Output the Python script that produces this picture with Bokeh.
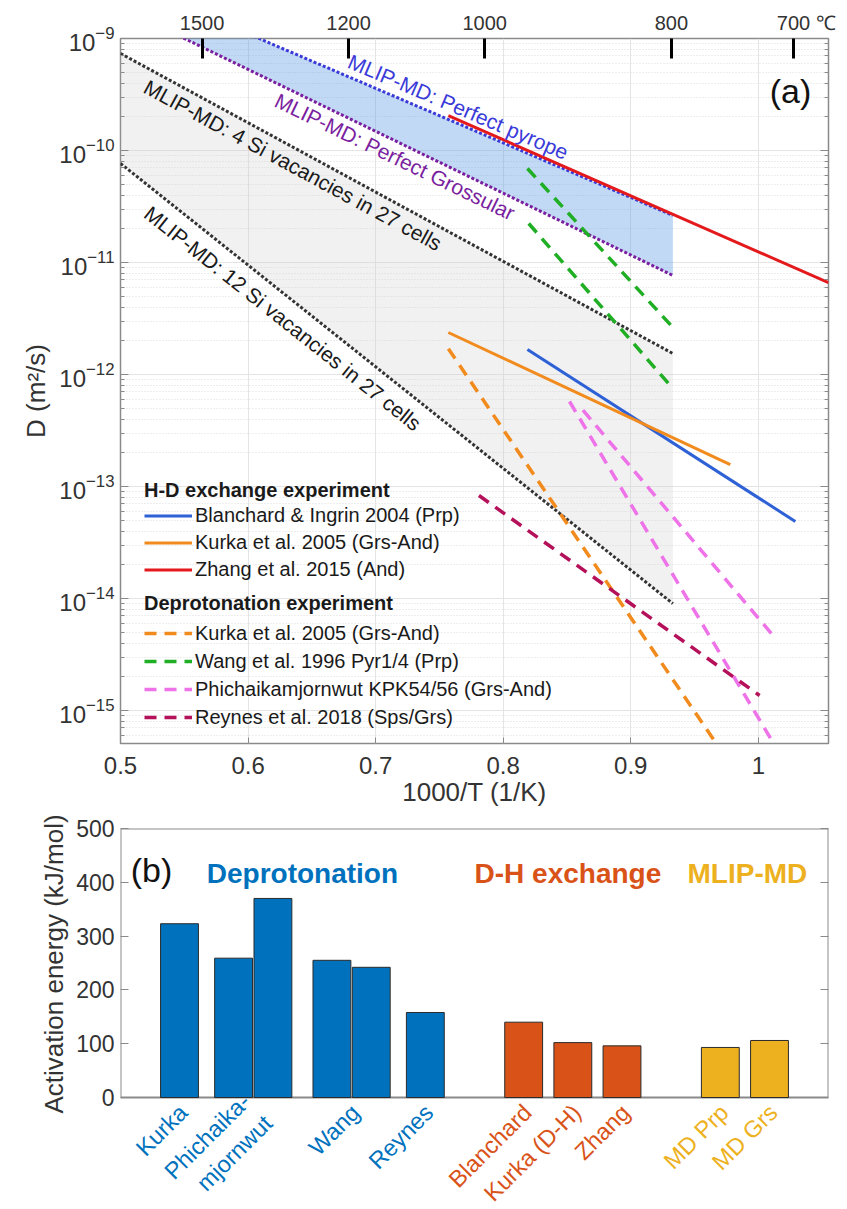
import math
from bokeh.plotting import figure
from bokeh.layouts import column
from bokeh.models import (Range1d, LogAxis, LinearAxis, FixedTicker, LogTicker,
                          CustomJSTickFormatter, Legend, LegendItem, Label, Title,
                          ColumnDataSource)
from bokeh.embed import file_html
from bokeh.resources import INLINE
from bokeh.core.properties import value

# ---------------- data: panel (a)  (x = 1000/T in 1/K, D in m^2/s) ----------------
x_ticks = [0.5, 0.6, 0.7, 0.8, 0.9, 1.0]
celsius_ticks = [1500, 1200, 1000, 800, 700]

md_x = [0.5, 0.933]
md_pyrope_D = [3.38e-9, 2.63e-11]
md_grossular_D = [1.89e-9, 7.66e-12]
md_4si_D = [7.35e-10, 1.54e-12]
md_12si_D = [7.66e-11, 9.0e-15]

blanchard_x = [0.819, 1.029]
blanchard_D = [1.67e-12, 4.87e-14]
kurka_hd_x = [0.757, 0.978]
kurka_hd_D = [2.37e-12, 1.57e-13]
zhang_x = [0.757, 1.055]
zhang_D = [2.05e-10, 6.6e-12]

kurka_dp_x = [0.757, 0.967]
kurka_dp_D = [1.70e-12, 5.07e-16]
wang1_x = [0.819, 0.933]
wang1_D = [6.9e-11, 2.63e-12]
wang4_x = [0.820, 0.933]
wang4_D = [2.23e-11, 7.5e-13]
phi54_x = [0.852, 1.012]
phi54_D = [5.74e-13, 5.07e-16]
phi56_x = [0.8625, 1.012]
phi56_D = [4.8e-13, 4.6e-15]
reynes_x = [0.781, 1.001]
reynes_D = [8.3e-14, 1.36e-15]

# ---------------- data: panel (b)  (activation energy, kJ/mol) ----------------
bar_names = ["Kurka", "Phichaikamjornwut KPK54", "Phichaikamjornwut KPK56",
             "Wang Pyr1", "Wang Pyr4", "Reynes", "Blanchard", "Kurka (D-H)",
             "Zhang", "MD Prp", "MD Grs"]
bar_values = [323, 259, 370, 255, 242, 158, 140, 102, 96, 93, 106]
bar_groups = ["Deprotonation"] * 6 + ["D-H exchange"] * 3 + ["MLIP-MD"] * 2
tick_labels = ["Kurka", "Phichaika-\nmjornwut", "Wang", "Reynes", "Blanchard",
               "Kurka (D-H)", "Zhang", "MD Prp", "MD Grs"]
tick_groups = ["Deprotonation"] * 4 + ["D-H exchange"] * 3 + ["MLIP-MD"] * 2
group_names = ["Deprotonation", "D-H exchange", "MLIP-MD"]
b_y_ticks = [0, 100, 200, 300, 400, 500]

# ---------------- layout / style ----------------
bar_pos = [1, 2.1, 2.9, 4.1, 4.9, 6, 8, 9, 10, 12, 13]
tick_pos = [1, 2.5, 4.5, 6, 8, 9, 10, 12, 13]
group_title_pos = [3.5, 8.9, 12.55]
group_colors = {"Deprotonation": "#0072BD", "D-H exchange": "#D95319", "MLIP-MD": "#EDB120"}

FONT = "Liberation Sans"
TXT = "#333333"
AX = "#8a8a8a"
W = 847

A_H, A_L, A_R, A_T, A_B = 814, 118, 19, 38, 71
XA = (0.5, 1.055)
YA = (5.07e-16, 1e-9)
B_H, B_L, B_R, B_T = 1209 - A_H, 120, 16, 14
B_FRAME_H = B_H - B_T
B_AXIS_PX = 269                       # pixel height of the 0..500 part of panel (b)
XB = (-0.2, 14.2)
YB = (-500.0 * (B_FRAME_H - B_AXIS_PX) / B_AXIS_PX, 500)


def style_axis(ax, tick_in=8, minor_in=4, size="24px"):
    ax.axis_line_color = None
    ax.major_tick_in = tick_in
    ax.major_tick_out = 0
    ax.minor_tick_in = minor_in
    ax.minor_tick_out = 0
    ax.major_tick_line_color = AX
    ax.minor_tick_line_color = AX if minor_in else None
    ax.major_label_text_font = FONT
    ax.major_label_text_font_size = size
    ax.major_label_text_color = TXT
    ax.axis_label_text_font = FONT
    ax.axis_label_text_font_size = "26px"
    ax.axis_label_text_font_style = "normal"
    ax.axis_label_text_color = TXT


kx = (W - A_L - A_R) / (XA[1] - XA[0])
ky = (A_H - A_T - A_B) / (math.log10(YA[1]) - math.log10(YA[0]))

# ---------------- panel (a) ----------------
pa = figure(width=W, height=A_H, x_range=Range1d(*XA), y_range=Range1d(*YA),
            y_axis_type="log", output_backend="svg", toolbar_location=None,
            min_border_left=A_L, min_border_right=A_R, min_border_top=A_T,
            min_border_bottom=A_B, outline_line_color=AX, outline_line_width=1.5)

xax = pa.below[0]
xax.ticker = FixedTicker(ticks=x_ticks, minor_ticks=[])
xax.formatter = CustomJSTickFormatter(code=r"return tick.toFixed(1).replace(/\.0$/, '');")
style_axis(xax, 6, 0)
xax.axis_label = "1000/T (1/K)"
xax.major_label_standoff = 13
xax.axis_label_standoff = 0
pa.xgrid[0].ticker = xax.ticker

yax = pa.left[0]
yax.ticker.num_minor_ticks = 10
style_axis(yax, 8, 4)
yax.axis_label = "D (m\u00b2/s)"
yax.major_label_standoff = 6

rax = LogAxis(ticker=LogTicker(num_minor_ticks=10), formatter=CustomJSTickFormatter(code="return '';"))
style_axis(rax, 8, 4, "0px")
rax.major_label_standoff = 0
pa.add_layout(rax, "right")

# top axis: thick Celsius tick marks (no labels) ...
top_pos = [1000.0 / (c + 273.15) for c in celsius_ticks]
tax = LinearAxis(ticker=FixedTicker(ticks=top_pos, minor_ticks=[]),
                 formatter=CustomJSTickFormatter(code="return '';"))
style_axis(tax, 20, 0, "0px")
tax.major_tick_line_color = "black"
tax.major_tick_line_width = 3
tax.major_label_standoff = 0
pa.add_layout(tax, "above")
# ... and the Celsius labels with the unit at the right end
tlab = LinearAxis(ticker=FixedTicker(ticks=top_pos + [XA[1]], minor_ticks=[]),
                  formatter=CustomJSTickFormatter(
                      args=dict(xend=XA[1]),
                      code="return Math.abs(tick - xend) < 1e-9 ? ' \u2103' : "
                           "String(Math.round(1000/tick - 273.15));"))
style_axis(tlab, 0, 0, "20px")
tlab.major_tick_line_color = None
tlab.major_label_standoff = 5
pa.add_layout(tlab, "above")

pa.xgrid.grid_line_color = "#e4e4e4"
pa.ygrid.grid_line_color = "#e4e4e4"
pa.ygrid.minor_grid_line_color = "#dcdcdc"
pa.ygrid.minor_grid_line_dash = "1 2"

pa.varea(x=md_x, y1=md_pyrope_D, y2=md_grossular_D, fill_color="#5b9be6", fill_alpha=0.38)
pa.varea(x=md_x, y1=md_4si_D, y2=md_12si_D, fill_color="#d0d0d0", fill_alpha=0.3)

DOT = "3 2"
pa.line(md_x, md_pyrope_D, line_color="#3a3ad8", line_width=3, line_dash=DOT)
pa.line(md_x, md_grossular_D, line_color="#7a1fa0", line_width=3, line_dash=DOT)
pa.line(md_x, md_4si_D, line_color="#333333", line_width=3, line_dash=DOT)
pa.line(md_x, md_12si_D, line_color="#333333", line_width=3, line_dash=DOT)

DASH = "12 8"
r_bl = pa.line(blanchard_x, blanchard_D, line_color="#2e60d6", line_width=3)
r_khd = pa.line(kurka_hd_x, kurka_hd_D, line_color="#f28b1e", line_width=3)
r_zh = pa.line(zhang_x, zhang_D, line_color="#e3191c", line_width=3)
r_kdp = pa.line(kurka_dp_x, kurka_dp_D, line_color="#f28b1e", line_width=3.5, line_dash=DASH)
r_w1 = pa.line(wang1_x, wang1_D, line_color="#1fae24", line_width=3.5, line_dash=DASH)
pa.line(wang4_x, wang4_D, line_color="#1fae24", line_width=3.5, line_dash=DASH)
r_p54 = pa.line(phi54_x, phi54_D, line_color="#ee72e8", line_width=3.5, line_dash=DASH)
pa.line(phi56_x, phi56_D, line_color="#ee72e8", line_width=3.5, line_dash=DASH)
r_rey = pa.line(reynes_x, reynes_D, line_color="#b5105a", line_width=3.5, line_dash=DASH)


def along(xs, Ds, xf, d):
    s = (math.log10(Ds[1]) - math.log10(Ds[0])) / (xs[1] - xs[0])
    m = -s * ky / kx
    n = math.sqrt(1 + m * m)
    logf = math.log10(Ds[0]) + s * (xf - xs[0])
    xc = xf + (-m * d / n) / kx
    logc = logf - (d / n) / ky
    return xc, 10 ** logc, -math.atan(m)


for txt, xs, Ds, xf, d, col in [
        ("MLIP-MD: Perfect pyrope", md_x, md_pyrope_D, 0.760, -15.6, "#3a3ad8"),
        ("MLIP-MD: Perfect Grossular", md_x, md_grossular_D, 0.720, 14.4, "#7a1fa0"),
        ("MLIP-MD: 4 Si vacancies in 27 cells", md_x, md_4si_D, 0.641, 15.8, "#1a1a1a"),
        ("MLIP-MD: 12 Si vacancies in 27 cells", md_x, md_12si_D, 0.637, 20.0, "#1a1a1a")]:
    xc, yc, ang = along(xs, Ds, xf, d)
    pa.text(x=[xc], y=[yc], text=[txt], angle=ang, text_align="center", text_baseline="middle",
            text_font=value(FONT), text_font_size="21px", text_color=col)

leg_common = dict(padding=0, margin=0, spacing=0, glyph_width=48, label_standoff=3,
                  background_fill_alpha=0, border_line_alpha=0,
                  label_text_font=FONT, label_text_font_size="20px", label_text_color="#1a1a1a",
                  title_text_font=FONT, title_text_font_size="20px", title_text_font_style="bold",
                  title_text_color="#1a1a1a")
leg1 = Legend(items=[LegendItem(label="Blanchard & Ingrin 2004 (Prp)", renderers=[r_bl]),
                     LegendItem(label="Kurka et al. 2005 (Grs-And)", renderers=[r_khd]),
                     LegendItem(label="Zhang et al. 2015 (And)", renderers=[r_zh])],
              title="H-D exchange experiment", location=(24, 160), glyph_height=27,
              label_height=27, title_standoff=0, **leg_common)
leg2 = Legend(items=[LegendItem(label="Kurka et al. 2005 (Grs-And)", renderers=[r_kdp]),
                     LegendItem(label="Wang et al. 1996 Pyr1/4 (Prp)", renderers=[r_w1]),
                     LegendItem(label="Phichaikamjornwut KPK54/56 (Grs-And)", renderers=[r_p54]),
                     LegendItem(label="Reynes et al. 2018 (Sps/Grs)", renderers=[r_rey])],
              title="Deprotonation experiment", location=(24, 12), glyph_height=28,
              label_height=28, title_standoff=4, **leg_common)
pa.add_layout(leg1)
pa.add_layout(leg2)

pa.add_layout(Label(x=670, y=653, x_units="screen", y_units="screen", text="(a)",
                    text_font=FONT, text_font_size="34px", text_color="#111111",
                    text_align="center", text_baseline="middle"))

# ---------------- panel (b): frame extends below 0 to hold the rotated labels ----------------
pb = figure(width=W, height=B_H, x_range=Range1d(*XB), y_range=Range1d(*YB),
            output_backend="svg", toolbar_location=None,
            min_border_left=B_L, min_border_right=B_R, min_border_top=B_T,
            min_border_bottom=0, outline_line_color=None)
pb.xaxis.visible = False
pb.xgrid.visible = False
pb.ygrid.visible = False
byax = pb.left[0]
byax.ticker = FixedTicker(ticks=b_y_ticks, minor_ticks=[])
style_axis(byax, 8, 0, "23px")
byax.major_label_standoff = 6
brax = LinearAxis(ticker=FixedTicker(ticks=b_y_ticks, minor_ticks=[]),
                  formatter=CustomJSTickFormatter(code="return '';"))
style_axis(brax, 8, 0, "0px")
brax.major_label_standoff = 0
pb.add_layout(brax, "right")
# y-axis title: starts 16 px below the 0 line
pb.add_layout(Title(text="Activation energy (kJ/mol)", align="left",
                    offset=(B_FRAME_H - B_AXIS_PX) - 16, text_font=FONT,
                    text_font_size="26px", text_font_style="normal", text_color=TXT,
                    standoff=10), "left")

# axes box around the 0..500 region
pb.quad(left=[XB[0]], right=[XB[1]], bottom=[0], top=[YB[1]], fill_color=None,
        line_color=AX, line_width=2)

bsrc = ColumnDataSource(dict(x=bar_pos, top=bar_values, name=bar_names,
                             color=[group_colors[g] for g in bar_groups]))
pb.vbar(x="x", top="top", bottom=0, width=0.77, fill_color="color", line_color="#2b2b2b",
        line_width=1, source=bsrc)

pb.text(x=group_title_pos, y=[416] * 3, text=group_names, text_align="center",
        text_baseline="middle", text_font=value(FONT), text_font_size="28px",
        text_font_style="bold", text_color=[group_colors[g] for g in group_names])
pb.add_layout(Label(x=31, y=B_FRAME_H - (869 - A_H - B_T), x_units="screen", y_units="screen",
                    text="(b)", text_font=FONT, text_font_size="34px", text_color="#111111",
                    text_align="center", text_baseline="middle"))

px_per_kj = B_AXIS_PX / 500.0
pb.text(x=[t + 0.08 for t in tick_pos], y=[-11 / px_per_kj] * len(tick_pos), text=tick_labels,
        angle=math.radians(45), text_align="right", text_baseline="middle",
        text_font=value(FONT), text_font_size="23.5px",
        text_color=[group_colors[g] for g in tick_groups])

layout = column(pa, pb, spacing=0)
open("out.html", "w").write(file_html(layout, INLINE))
